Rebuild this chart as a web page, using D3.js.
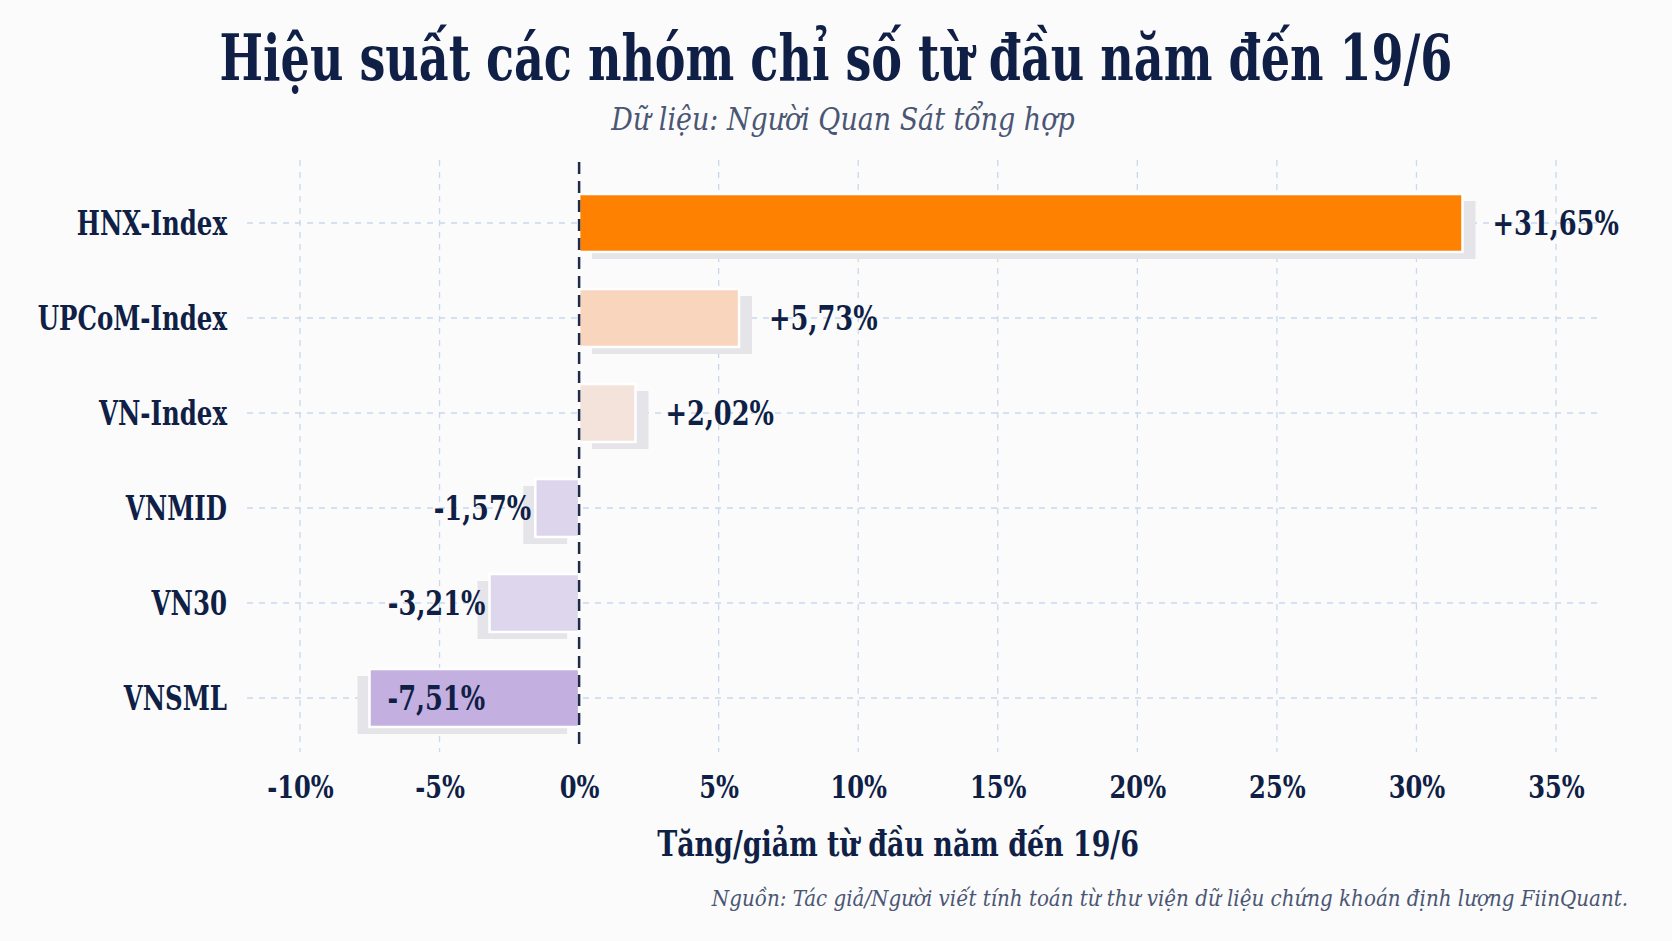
<!DOCTYPE html>
<meta charset="utf-8">
<style>
body { margin: 0; background: #fbfbfc; }
svg { display: block; }
text { fill: #0f1f46; font-family: "DejaVu Serif Condensed", "DejaVu Serif", serif; }
.grid line { stroke: #c9d8ec; stroke-width: 1.3; stroke-dasharray: 6 6; }
.bold { font-weight: bold; }
.it { font-style: italic; font-weight: normal; fill: #4a5673; }
</style>
<body>
<script src="https://cdn.jsdelivr.net/npm/d3@7"></script>
<script>

var categories = ["HNX-Index", "UPCoM-Index", "VN-Index", "VNMID", "VN30", "VNSML"];
var values = [31.65, 5.73, 2.02, -1.57, -3.21, -7.51];
var barColors = ["#ff8102", "#fad5bd", "#f3e3db", "#ddd5ec", "#ddd6ec", "#c4b0e0"];
var tickValues = [-10, -5, 0, 5, 10, 15, 20, 25, 30, 35];

var W = 1672, H = 941;

var data = categories.map(function(c, i) {
  return {name: c, value: values[i], color: barColors[i]};
});

var x = d3.scaleLinear()
    .domain([-10, 35])
    .range([300, 1556]);

var y = d3.scaleBand()
    .domain(categories)
    .range([175.5, 745.5])
    .paddingInner(0.39)
    .paddingOuter(0.195);

var svg = d3.select("body").append("svg")
    .attr("width", W)
    .attr("height", H);

svg.append("rect").attr("width", W).attr("height", H).attr("fill", "#fbfbfc");

// the reference font is a narrow serif, so squeeze text horizontally
function squeeze(sel, k) {
  sel.each(function() {
    var len = this.getComputedTextLength();
    d3.select(this).attr("textLength", len * k).attr("lengthAdjust", "spacingAndGlyphs");
  });
}

// grid
var grid = svg.append("g").attr("class", "grid");
grid.selectAll(".v").data(tickValues.filter(function(d) { return d !== 0; }))
  .enter().append("line")
    .attr("x1", function(d) { return x(d); })
    .attr("x2", function(d) { return x(d); })
    .attr("y1", 160).attr("y2", 752);
grid.selectAll(".h").data(categories)
  .enter().append("line")
    .attr("x1", 247).attr("x2", 1602)
    .attr("y1", function(d) { return y(d) + y.bandwidth() / 2; })
    .attr("y2", function(d) { return y(d) + y.bandwidth() / 2; });

// bar shadows
function barX(d) { return d.value >= 0 ? x(0) : x(d.value); }
function barW(d) { return Math.abs(x(d.value) - x(0)); }

svg.selectAll(".shadow").data(data)
  .enter().append("rect")
    .attr("x", function(d) { return barX(d) + (d.value >= 0 ? 13 : -12); })
    .attr("y", function(d) { return y(d.name) + 7; })
    .attr("width", barW)
    .attr("height", y.bandwidth())
    .attr("fill", "#e4e4e9");

svg.selectAll(".bar").data(data)
  .enter().append("rect")
    .attr("x", barX)
    .attr("y", function(d) { return y(d.name); })
    .attr("width", barW)
    .attr("height", y.bandwidth())
    .attr("fill", function(d) { return d.color; })
    .attr("stroke", "#ffffff")
    .attr("stroke-width", 2.5);

// zero line
svg.append("line")
    .attr("x1", x(0)).attr("x2", x(0))
    .attr("y1", 162).attr("y2", 745)
    .attr("stroke", "#1f2b48")
    .attr("stroke-width", 2.5)
    .attr("stroke-dasharray", "12 7");

// value labels
function fmt(v) { return (v > 0 ? "+" : "") + v.toFixed(2).replace(".", ",") + "%"; }

svg.selectAll(".val").data(data)
  .enter().append("text")
    .attr("class", "bold")
    .style("font-size", "34px")
    .attr("dy", "0.36em")
    .attr("y", function(d) { return y(d.name) + y.bandwidth() / 2; })
    .attr("x", function(d) {
      if (d.value >= 0) return x(d.value) + 30;
      if (d.value < -5) return x(d.value) + 18;
      return x(d.value) - 4;
    })
    .attr("text-anchor", function(d) { return (d.value >= 0 || d.value < -5) ? "start" : "end"; })
    .text(function(d) { return fmt(d.value); })
    .call(squeeze, 0.84);

// y axis labels
var yAxis = svg.append("g")
    .attr("transform", "translate(227,0)")
    .call(d3.axisLeft(y).tickSize(0).tickPadding(0));
yAxis.select(".domain").remove();
yAxis.selectAll("text")
    .attr("class", "bold")
    .style("font-size", "34px")
    .attr("dy", "0.36em")
    .attr("fill", "#0f1f46")
    .attr("font-family", null)
    .call(squeeze, 0.8);

// x axis labels
var xAxis = svg.append("g")
    .attr("transform", "translate(0,798)")
    .call(d3.axisBottom(x).tickValues(tickValues).tickSize(0).tickPadding(0)
      .tickFormat(function(d) { return d + "%"; }));
xAxis.select(".domain").remove();
xAxis.selectAll("text")
    .attr("class", "bold")
    .style("font-size", "32px")
    .attr("dy", 0)
    .attr("fill", "#0f1f46")
    .attr("font-family", null)
    .call(squeeze, 0.84);

// titles
svg.append("text")
    .attr("class", "bold")
    .attr("transform", "translate(836,80) scale(0.8,1)")
    .attr("text-anchor", "middle")
    .style("font-size", "64px")
    .text("Hiệu suất các nhóm chỉ số từ đầu năm đến 19/6");

svg.append("text")
    .attr("class", "it")
    .attr("x", 843).attr("y", 130)
    .attr("text-anchor", "middle")
    .style("font-size", "31px")
    .text("Dữ liệu: Người Quan Sát tổng hợp")
    .call(squeeze, 0.965);

svg.append("text")
    .attr("class", "bold")
    .attr("x", 898).attr("y", 856)
    .attr("text-anchor", "middle")
    .style("font-size", "36px")
    .text("Tăng/giảm từ đầu năm đến 19/6")
    .call(squeeze, 0.83);

svg.append("text")
    .attr("class", "it")
    .attr("x", 1628).attr("y", 906)
    .attr("text-anchor", "end")
    .style("font-size", "23px")
    .text("Nguồn: Tác giả/Người viết tính toán từ thư viện dữ liệu chứng khoán định lượng FiinQuant.")
    .call(squeeze, 0.96);

</script>
</body>
